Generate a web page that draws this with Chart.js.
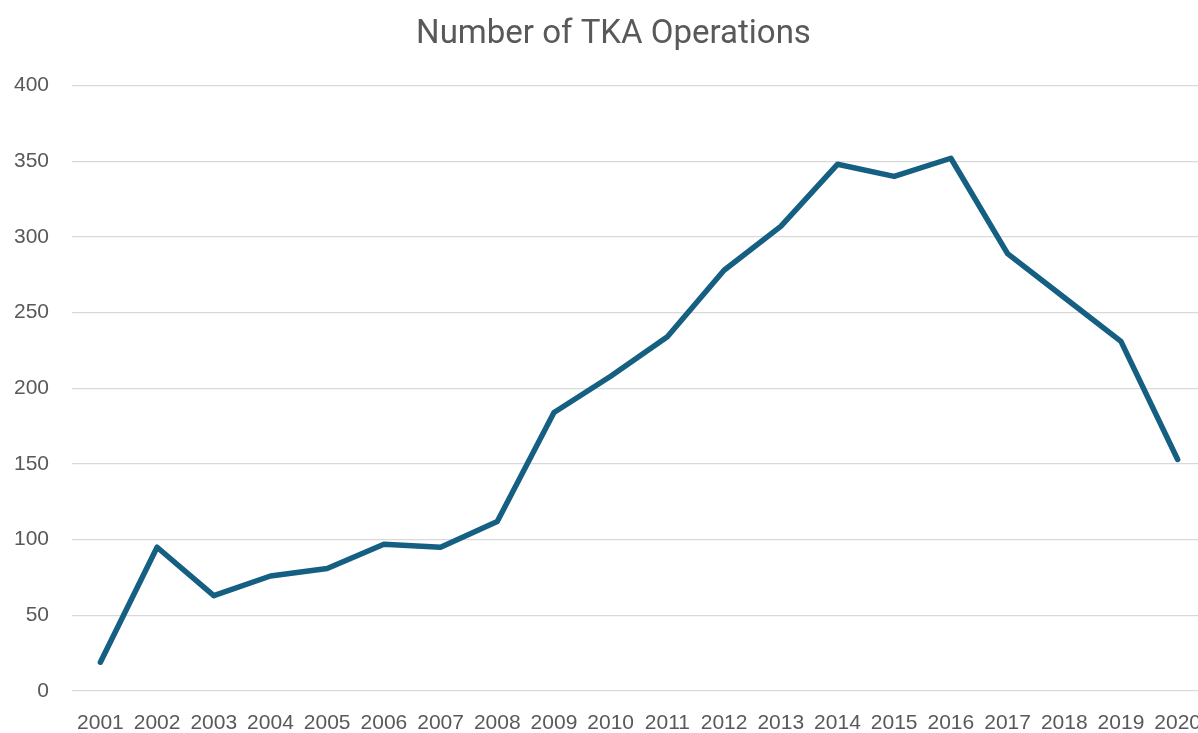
<!DOCTYPE html>
<html>
<head>
<meta charset="utf-8">
<script src="https://cdn.jsdelivr.net/npm/chart.js@4/dist/chart.umd.min.js"></script>
<style>
  html, body { margin: 0; padding: 0; background: #fff; overflow: hidden; }
  #wrap { width: 1206px; height: 733px; }
</style>
</head>
<body>
<div id="wrap"><canvas id="grafico"></canvas></div>
<script>
/* ================= DADOS ================= */

const anos = ["2001", "2002", "2003", "2004", "2005", "2006", "2007", "2008", "2009", "2010",
              "2011", "2012", "2013", "2014", "2015", "2016", "2017", "2018", "2019", "2020"];

const operacoes = [19, 95, 63, 76, 81, 97, 95, 112, 184, 208,
                   234, 278, 307, 348, 340, 352, 289, 260, 231, 153];

const ticksY = [0, 50, 100, 150, 200, 250, 300, 350, 400];

const titulo = "Number of TKA Operations";

/* ================= GRÁFICO ================= */

const cinza = "#595959";

// empurra o título um pouco para a direita (centro ~614px como no original)
const deslocaTitulo = {
  id: "deslocaTitulo",
  afterLayout(chart) {
    const t = chart.titleBlock;
    if (!t) return;
    t.left += 15;
    t.right += 15;
  }
};

new Chart(document.getElementById("grafico"), {
  type: "line",
  data: {
    labels: anos,
    datasets: [{
      label: titulo,
      data: operacoes,
      borderColor: "#156082",
      borderWidth: 5.5,
      borderJoinStyle: "round",
      borderCapStyle: "round",
      pointRadius: 0,
      tension: 0,
      fill: false
    }]
  },
  options: {
    responsive: true,
    maintainAspectRatio: false,
    animation: false,
    layout: { padding: { left: -9, right: 0, top: 0, bottom: 0 } },
    plugins: {
      legend: { display: false },
      tooltip: { enabled: false },
      title: {
        display: true,
        text: titulo,
        color: cinza,
        font: { family: "Roboto", size: 33, weight: "normal" },
        padding: { top: 15, bottom: 31 }
      }
    },
    scales: {
      x: {
        offset: true,
        grid: { display: false, drawTicks: false },
        border: { display: false },
        ticks: {
          color: cinza,
          font: { family: "Liberation Sans", size: 21 },
          padding: 20,
          maxRotation: 0,
          autoSkip: false
        },
        afterFit: axis => {
          axis.paddingLeft = 0;
          axis.paddingRight = 0;
          axis.height = 42;
        }
      },
      y: {
        min: 0,
        max: 400,
        afterBuildTicks: axis => { axis.ticks = ticksY.map(v => ({ value: v })); },
        grid: { color: "#d9d9d9", lineWidth: 1.3, drawTicks: false },
        border: { display: false },
        ticks: {
          color: cinza,
          font: { family: "Liberation Sans", size: 21 },
          padding: 23
        }
      }
    }
  },
  plugins: [deslocaTitulo]
});
</script>
</body>
</html>
